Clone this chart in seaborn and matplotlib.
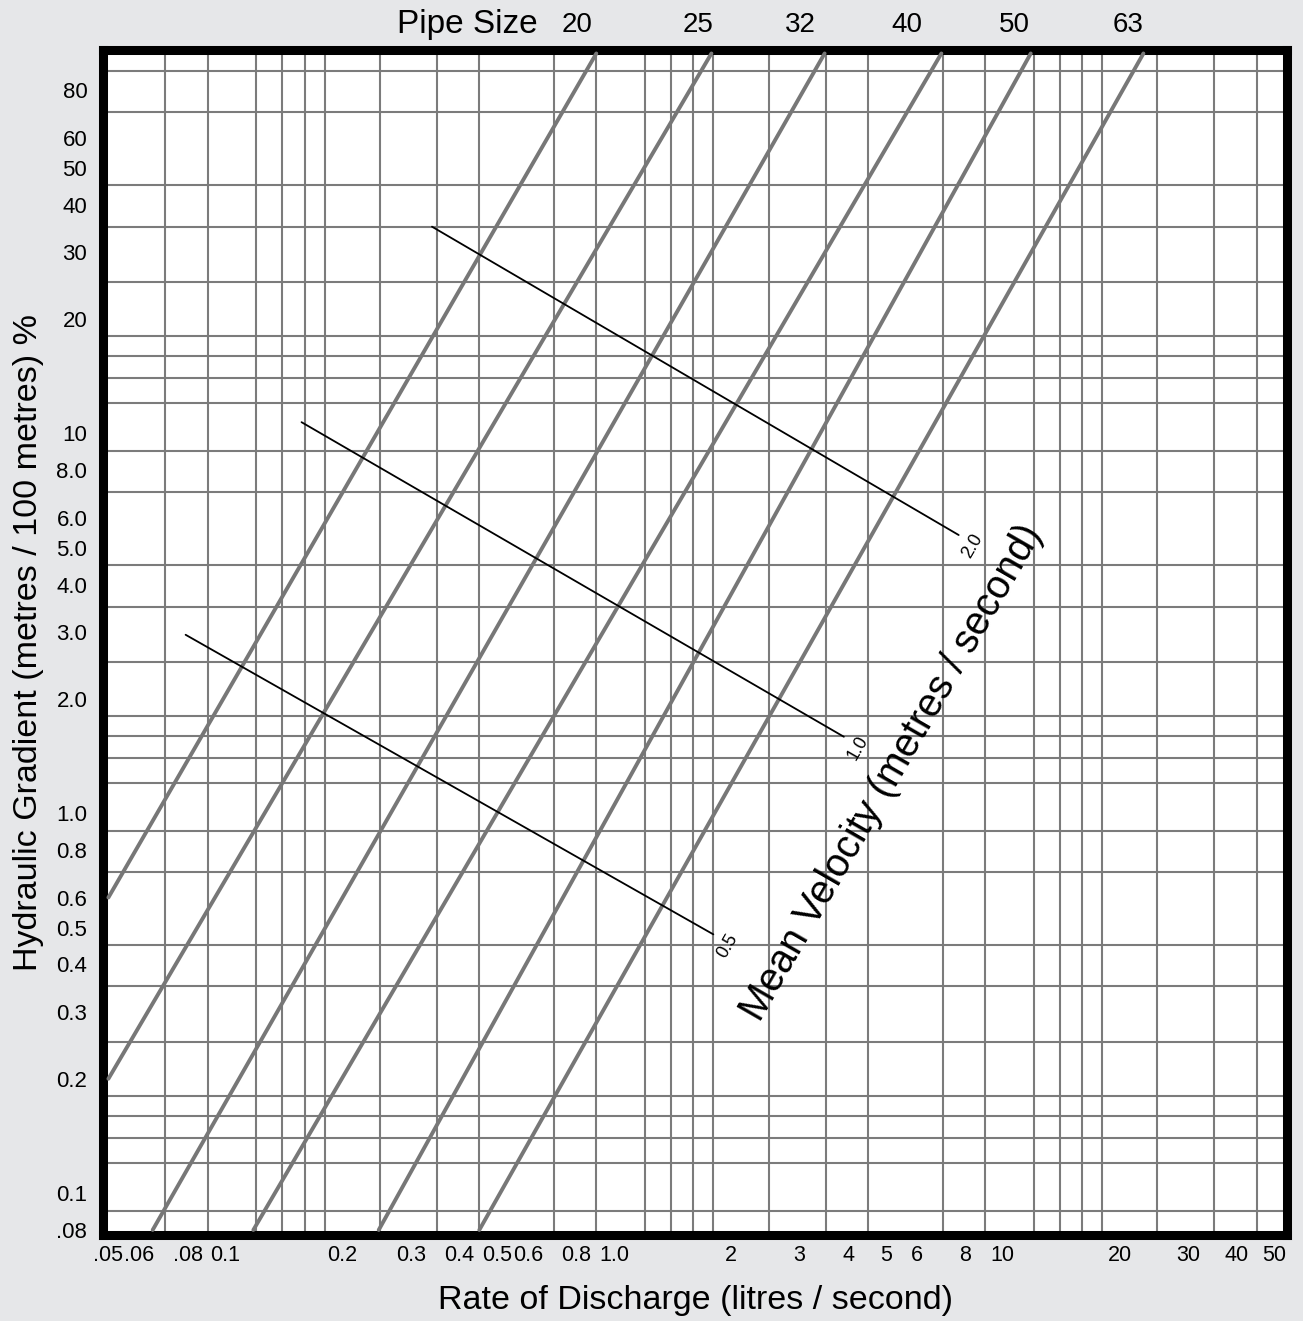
import matplotlib
matplotlib.use("Agg")
import matplotlib.pyplot as plt
from matplotlib.ticker import NullFormatter
import pandas as pd
import seaborn as sns

# pipe lines: nominal size, lower and upper end
pipe_sizes = ["20", "25", "32", "40", "50", "63"]
pipe_q_low = [0.05, 0.05, 0.065, 0.118, 0.248, 0.45]
pipe_j_low = [0.6, 0.2, 0.08, 0.08, 0.08, 0.08]
pipe_q_high = [0.9, 1.78, 3.48, 6.95, 11.8, 23.0]
pipe_j_high = [100, 100, 100, 100, 100, 100]

# mean velocity lines (m/s)
vel_labels = ["0.5", "1.0", "2.0"]
vel_q_start = [0.079, 0.157, 0.34]
vel_j_start = [2.95, 10.7, 35.0]
vel_q_end = [1.8, 3.9, 7.7]
vel_j_end = [0.48, 1.59, 5.4]

x_ticks = [0.05, 0.06, 0.08, 0.1, 0.2, 0.3, 0.4, 0.5, 0.6, 0.8, 1.0,
           2, 3, 4, 5, 6, 8, 10, 20, 30, 40, 50]
x_tick_labels = [".05", ".06", ".08", "0.1", "0.2", "0.3", "0.4", "0.5", "0.6", "0.8", "1.0",
                 "2", "3", "4", "5", "6", "8", "10", "20", "30", "40", "50"]
y_ticks = [80, 60, 50, 40, 30, 20, 10, 8, 6, 5, 4, 3, 2, 1,
           0.8, 0.6, 0.5, 0.4, 0.3, 0.2, 0.1, 0.08]
y_tick_labels = ["80", "60", "50", "40", "30", "20", "10", "8.0", "6.0", "5.0", "4.0", "3.0", "2.0", "1.0",
                 "0.8", "0.6", "0.5", "0.4", "0.3", "0.2", "0.1", ".08"]

x_grid = [0.06, 0.07, 0.08, 0.09, 0.1, 0.12, 0.14, 0.16, 0.18, 0.2, 0.25, 0.3, 0.35, 0.4, 0.45,
          0.5, 0.6, 0.7, 0.8, 0.9, 1.0, 1.2, 1.4, 1.6, 1.8, 2, 2.5, 3, 3.5, 4, 4.5,
          5, 6, 7, 8, 9, 10, 12, 14, 16, 18, 20, 25, 30, 35, 40, 45]
# the original has no line at 0.6
y_grid = [0.09, 0.1, 0.12, 0.14, 0.16, 0.18, 0.2, 0.25, 0.3, 0.35, 0.4, 0.45, 0.5,
          0.7, 0.8, 0.9, 1.0, 1.2, 1.4, 1.6, 1.8, 2, 2.5, 3, 3.5, 4, 4.5,
          5, 6, 7, 8, 9, 10, 12, 14, 16, 18, 20, 25, 30, 35, 40, 45, 50, 60, 70, 80, 90]

sns.set_style("white")
plt.rcParams["font.family"] = ["Liberation Sans", "DejaVu Sans"]
plt.rcParams["text.color"] = "black"
plt.rcParams["axes.labelcolor"] = "black"
plt.rcParams["xtick.color"] = "black"
plt.rcParams["ytick.color"] = "black"

bg = "#e6e7e9"
grid_col = "#7b7b7b"

fig = plt.figure(figsize=(13.03, 13.21), dpi=100, facecolor=bg)
ax = fig.add_axes([0.0787, 0.0651, 0.9094, 0.8974])
ax.set_facecolor("white")
ax.set_xscale("log")
ax.set_yscale("log")

pipe_df = pd.DataFrame({
    "size": pipe_sizes * 2,
    "q": pipe_q_low + pipe_q_high,
    "j": pipe_j_low + pipe_j_high,
})
sns.lineplot(data=pipe_df, x="q", y="j", units="size", estimator=None, sort=False,
             color="#777777", linewidth=2.8, ax=ax, legend=False, zorder=3)

vel_df = pd.DataFrame({
    "v": vel_labels * 2,
    "q": vel_q_start + vel_q_end,
    "j": vel_j_start + vel_j_end,
})
sns.lineplot(data=vel_df, x="q", y="j", units="v", estimator=None, sort=False,
             color="black", linewidth=1.3, ax=ax, legend=False, zorder=4)

for lab, q, j in zip(vel_labels, vel_q_end, vel_j_end):
    ax.annotate(lab, (q, j), xytext=(10, -8), textcoords="offset points",
                rotation=60, ha="center", va="center", fontsize=13, zorder=5)

ax.set_xlim(0.0483, 54)
ax.set_ylim(0.0776, 102.4)

ax.set_xticks(x_ticks)
ax.set_xticklabels(x_tick_labels)
ax.set_yticks(y_ticks)
ax.set_yticklabels(y_tick_labels)
ax.set_xticks(x_grid, minor=True)
ax.set_yticks(y_grid, minor=True)
ax.xaxis.set_minor_formatter(NullFormatter())
ax.yaxis.set_minor_formatter(NullFormatter())
ax.tick_params(which="both", length=0)
ax.tick_params(axis="x", labelsize=15.5, pad=7)
ax.tick_params(axis="y", labelsize=16, pad=11)
ax.grid(False, which="major")
ax.grid(True, which="minor", color=grid_col, linewidth=1.5)
ax.set_axisbelow(True)

for s in ax.spines.values():
    s.set_visible(True)
    s.set_color("black")
    s.set_linewidth(6.5)

ax.set_xlabel("Rate of Discharge (litres / second)", fontsize=24.5, labelpad=14)
ax.set_ylabel("Hydraulic Gradient (metres / 100 metres) %", fontsize=24.5, labelpad=9)

# pipe size header
ax.text(0.3076, 1.021, "Pipe Size", transform=ax.transAxes, ha="center", va="center", fontsize=24)
pipe_label_pos = [0.4004, 0.5025, 0.5886, 0.6789, 0.7692, 0.8654]
for lab, px in zip(pipe_sizes, pipe_label_pos):
    ax.text(px, 1.021, lab, transform=ax.transAxes, ha="center", va="center", fontsize=20)

ax.text(0.6660, 0.3900, "Mean Velocity (metres / second)", transform=ax.transAxes,
        rotation=60, ha="center", va="center", fontsize=28.5, zorder=5)

fig.savefig("out.png", dpi=100, facecolor=bg)
